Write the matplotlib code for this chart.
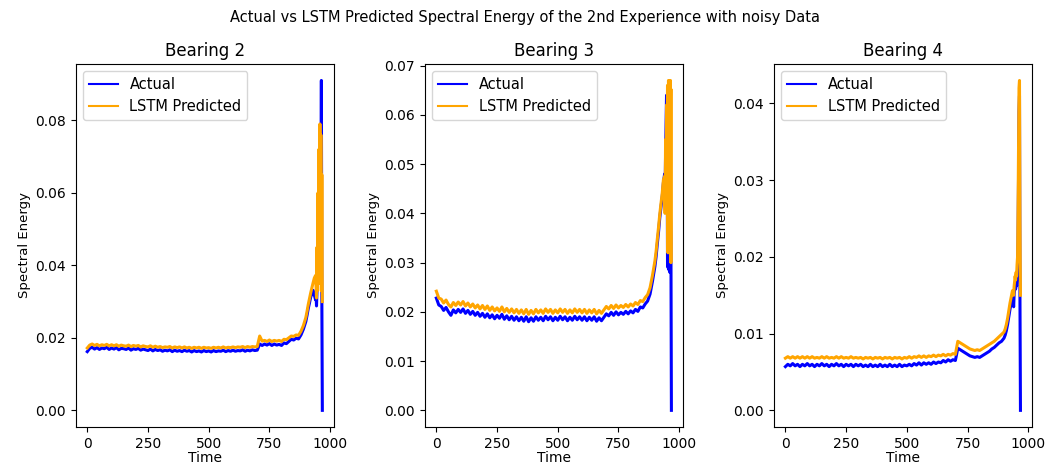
import numpy as np
import matplotlib
matplotlib.use("Agg")
import matplotlib.pyplot as plt

# time index: every 10 steps up to 890, then finer sampling through the failure region
time = list(range(0, 900, 10)) + list(range(900, 940, 5)) + list(range(940, 970, 2))

bearing2_actual = [
    0.0162, 0.0171, 0.0174, 0.0169, 0.0173, 0.0168, 0.0172, 0.0170, 0.0174, 0.0168,
    0.0172, 0.0169, 0.0173, 0.0167, 0.0171, 0.0170, 0.0168, 0.0172, 0.0166, 0.0170,
    0.0168, 0.0171, 0.0166, 0.0169, 0.0167, 0.0165, 0.0169, 0.0164, 0.0168, 0.0165,
    0.0167, 0.0163, 0.0166, 0.0164, 0.0167, 0.0162, 0.0166, 0.0163, 0.0165, 0.0162,
    0.0166, 0.0163, 0.0165, 0.0161, 0.0165, 0.0162, 0.0164, 0.0161, 0.0165, 0.0162,
    0.0164, 0.0161, 0.0165, 0.0162, 0.0164, 0.0163, 0.0166, 0.0162, 0.0165, 0.0163,
    0.0166, 0.0163, 0.0165, 0.0164, 0.0167, 0.0163, 0.0166, 0.0164, 0.0167, 0.0165,
    0.0166, 0.0183, 0.0179, 0.0183, 0.0180, 0.0184, 0.0179, 0.0183, 0.0180, 0.0182,
    0.0179, 0.0186, 0.0184, 0.0190, 0.0196, 0.0194, 0.0199, 0.0197, 0.0208, 0.0224,
    0.0245, 0.0262, 0.0281, 0.0296, 0.0312, 0.0322, 0.0331, 0.0318,
    0.0305, 0.0322, 0.0288, 0.0330, 0.0360, 0.0450, 0.0350, 0.0700, 0.0420, 0.0600,
    0.0380, 0.0500, 0.0910, 0.0300, 0.0000,
]
bearing2_pred = [
    0.0172, 0.0180, 0.0183, 0.0179, 0.0182, 0.0178, 0.0181, 0.0179, 0.0182, 0.0178,
    0.0181, 0.0178, 0.0181, 0.0177, 0.0180, 0.0178, 0.0177, 0.0180, 0.0176, 0.0179,
    0.0177, 0.0179, 0.0175, 0.0178, 0.0176, 0.0175, 0.0178, 0.0174, 0.0177, 0.0174,
    0.0176, 0.0173, 0.0175, 0.0174, 0.0176, 0.0172, 0.0175, 0.0173, 0.0175, 0.0172,
    0.0175, 0.0172, 0.0174, 0.0171, 0.0174, 0.0172, 0.0174, 0.0171, 0.0174, 0.0172,
    0.0173, 0.0171, 0.0174, 0.0172, 0.0174, 0.0172, 0.0175, 0.0172, 0.0174, 0.0173,
    0.0175, 0.0173, 0.0175, 0.0174, 0.0176, 0.0173, 0.0176, 0.0174, 0.0176, 0.0175,
    0.0176, 0.0205, 0.0191, 0.0193, 0.0190, 0.0194, 0.0190, 0.0193, 0.0191, 0.0193,
    0.0190, 0.0196, 0.0195, 0.0200, 0.0205, 0.0204, 0.0208, 0.0207, 0.0218, 0.0234,
    0.0256, 0.0273, 0.0292, 0.0308, 0.0324, 0.0338, 0.0352, 0.0365,
    0.0372, 0.0345, 0.0310, 0.0450, 0.0330, 0.0600, 0.0380, 0.0720, 0.0350, 0.0790,
    0.0400, 0.0760, 0.0330, 0.0650, 0.0300,
]

bearing3_actual = [
    0.0228, 0.0214, 0.0211, 0.0203, 0.0209, 0.0200, 0.0193, 0.0204, 0.0198, 0.0205,
    0.0199, 0.0206, 0.0197, 0.0203, 0.0195, 0.0201, 0.0193, 0.0199, 0.0191, 0.0197,
    0.0189, 0.0196, 0.0188, 0.0194, 0.0186, 0.0193, 0.0187, 0.0195, 0.0185, 0.0192,
    0.0184, 0.0191, 0.0183, 0.0190, 0.0182, 0.0189, 0.0181, 0.0190, 0.0180, 0.0188,
    0.0181, 0.0190, 0.0183, 0.0189, 0.0182, 0.0191, 0.0184, 0.0190, 0.0182, 0.0189,
    0.0183, 0.0191, 0.0184, 0.0190, 0.0182, 0.0189, 0.0183, 0.0191, 0.0184, 0.0190,
    0.0183, 0.0190, 0.0182, 0.0189, 0.0183, 0.0190, 0.0181, 0.0188, 0.0182, 0.0189,
    0.0196, 0.0192, 0.0199, 0.0193, 0.0200, 0.0194, 0.0199, 0.0195, 0.0201, 0.0196,
    0.0202, 0.0198, 0.0205, 0.0201, 0.0210, 0.0208, 0.0216, 0.0222, 0.0236, 0.0262,
    0.0292, 0.0312, 0.0338, 0.0362, 0.0390, 0.0412, 0.0432, 0.0462,
    0.0480, 0.0440, 0.0520, 0.0580, 0.0640, 0.0620, 0.0300, 0.0290, 0.0310, 0.0285,
    0.0300, 0.0280, 0.0400, 0.0350, 0.0000,
]
bearing3_pred = [
    0.0242, 0.0228, 0.0226, 0.0218, 0.0224, 0.0215, 0.0210, 0.0219, 0.0213, 0.0220,
    0.0214, 0.0221, 0.0212, 0.0218, 0.0210, 0.0216, 0.0208, 0.0214, 0.0206, 0.0213,
    0.0205, 0.0212, 0.0203, 0.0210, 0.0202, 0.0208, 0.0201, 0.0210, 0.0200, 0.0207,
    0.0199, 0.0206, 0.0198, 0.0205, 0.0197, 0.0204, 0.0196, 0.0205, 0.0195, 0.0203,
    0.0196, 0.0205, 0.0198, 0.0204, 0.0197, 0.0206, 0.0199, 0.0205, 0.0197, 0.0204,
    0.0198, 0.0206, 0.0199, 0.0205, 0.0197, 0.0204, 0.0198, 0.0206, 0.0199, 0.0205,
    0.0198, 0.0205, 0.0197, 0.0204, 0.0198, 0.0205, 0.0196, 0.0203, 0.0197, 0.0204,
    0.0211, 0.0206, 0.0213, 0.0207, 0.0214, 0.0208, 0.0213, 0.0209, 0.0215, 0.0210,
    0.0216, 0.0212, 0.0219, 0.0215, 0.0223, 0.0221, 0.0229, 0.0235, 0.0249, 0.0274,
    0.0303, 0.0323, 0.0348, 0.0372, 0.0398, 0.0420, 0.0440, 0.0468,
    0.0475, 0.0400, 0.0550, 0.0450, 0.0620, 0.0480, 0.0660, 0.0320, 0.0670, 0.0350,
    0.0660, 0.0320, 0.0670, 0.0300, 0.0650,
]

bearing4_actual = [
    0.0057, 0.0060, 0.0058, 0.0061, 0.0058, 0.0060, 0.0057, 0.0060, 0.0058, 0.0061,
    0.0058, 0.0060, 0.0057, 0.0060, 0.0058, 0.0061, 0.0058, 0.0060, 0.0057, 0.0060,
    0.0058, 0.0061, 0.0058, 0.0060, 0.0057, 0.0060, 0.0058, 0.0060, 0.0057, 0.0060,
    0.0058, 0.0060, 0.0057, 0.0059, 0.0057, 0.0060, 0.0057, 0.0059, 0.0057, 0.0060,
    0.0057, 0.0059, 0.0057, 0.0060, 0.0057, 0.0059, 0.0057, 0.0060, 0.0057, 0.0059,
    0.0058, 0.0060, 0.0058, 0.0061, 0.0059, 0.0062, 0.0059, 0.0062, 0.0060, 0.0062,
    0.0060, 0.0063, 0.0061, 0.0063, 0.0062, 0.0065, 0.0063, 0.0066, 0.0064, 0.0066,
    0.0065, 0.0081, 0.0079, 0.0077, 0.0075, 0.0073, 0.0071, 0.0070, 0.0069, 0.0070,
    0.0069, 0.0071, 0.0073, 0.0075, 0.0077, 0.0080, 0.0082, 0.0085, 0.0088, 0.0090,
    0.0094, 0.0098, 0.0104, 0.0112, 0.0122, 0.0132, 0.0140, 0.0148,
    0.0135, 0.0152, 0.0158, 0.0165, 0.0158, 0.0170, 0.0162, 0.0175, 0.0180, 0.0220,
    0.0300, 0.0390, 0.0410, 0.0140, 0.0000,
]
bearing4_pred = [
    0.0068, 0.0070, 0.0068, 0.0070, 0.0068, 0.0070, 0.0068, 0.0070, 0.0068, 0.0070,
    0.0068, 0.0070, 0.0068, 0.0069, 0.0068, 0.0070, 0.0068, 0.0070, 0.0068, 0.0069,
    0.0068, 0.0070, 0.0068, 0.0070, 0.0068, 0.0069, 0.0068, 0.0070, 0.0068, 0.0069,
    0.0068, 0.0069, 0.0067, 0.0069, 0.0068, 0.0069, 0.0067, 0.0069, 0.0068, 0.0069,
    0.0067, 0.0069, 0.0068, 0.0069, 0.0067, 0.0069, 0.0068, 0.0069, 0.0067, 0.0069,
    0.0068, 0.0070, 0.0068, 0.0070, 0.0069, 0.0071, 0.0069, 0.0071, 0.0069, 0.0071,
    0.0070, 0.0072, 0.0070, 0.0072, 0.0071, 0.0073, 0.0071, 0.0073, 0.0072, 0.0074,
    0.0073, 0.0090, 0.0088, 0.0086, 0.0084, 0.0082, 0.0080, 0.0079, 0.0078, 0.0079,
    0.0078, 0.0080, 0.0082, 0.0084, 0.0086, 0.0088, 0.0090, 0.0093, 0.0096, 0.0099,
    0.0102, 0.0106, 0.0112, 0.0120, 0.0130, 0.0140, 0.0148, 0.0156,
    0.0150, 0.0162, 0.0168, 0.0175, 0.0170, 0.0180, 0.0175, 0.0190, 0.0200, 0.0260,
    0.0340, 0.0420, 0.0430, 0.0250, 0.0150,
]

bearings = ["Bearing 2", "Bearing 3", "Bearing 4"]
actual = [bearing2_actual, bearing3_actual, bearing4_actual]
predicted = [bearing2_pred, bearing3_pred, bearing4_pred]

fig, axes = plt.subplots(1, 3, figsize=(10.49, 4.67), dpi=100)
fig.subplots_adjust(left=0.072, right=0.984, bottom=0.086, top=0.863, wspace=0.35)

for ax, name, y_true, y_pred in zip(axes, bearings, actual, predicted):
    ax.plot(time, y_true, color="blue", lw=2.2, label="Actual")
    ax.plot(time, y_pred, color="orange", lw=2.2, label="LSTM Predicted")
    ax.set_title(name, fontsize=12)
    ax.set_xlabel("Time", fontsize=10, labelpad=0)
    ax.set_ylabel("Spectral Energy", fontsize=9.5, labelpad=3)
    ax.set_xticks([0, 250, 500, 750, 1000])
    ax.tick_params(labelsize=10)
    leg = ax.legend(loc="upper left", fontsize=10.5)
    for h in leg.get_lines():
        h.set_linewidth(1.5)

fig.suptitle("Actual vs LSTM Predicted Spectral Energy of the 2nd Experience with noisy Data",
             fontsize=10.5, y=0.978)

plt.savefig("out.png", dpi=100)
